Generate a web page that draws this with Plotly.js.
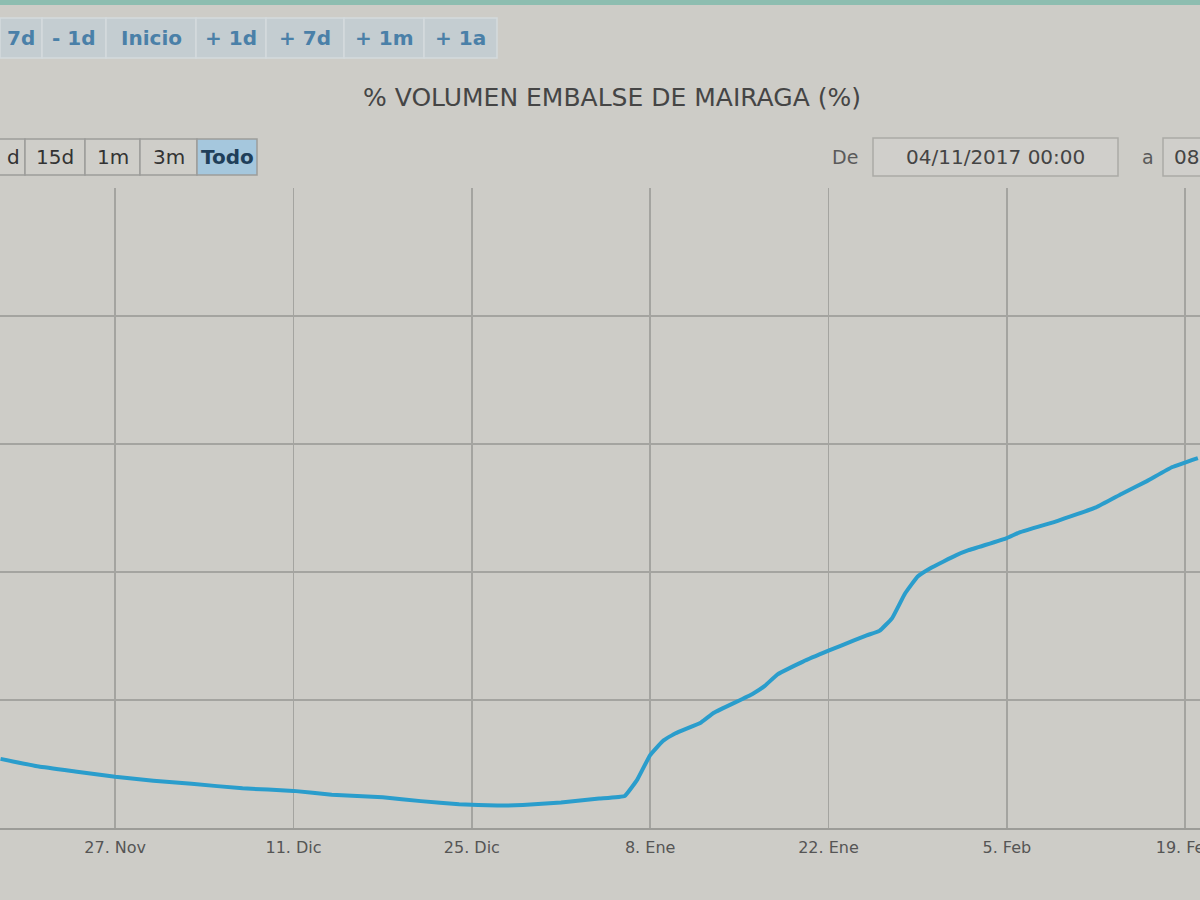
<!DOCTYPE html>
<html>
<head>
<meta charset="utf-8">
<script src="https://cdn.plot.ly/plotly-3.0.1.min.js"></script>
<style>
  html, body { margin: 0; padding: 0; background: #cdccc7; }
  #chart { width: 1200px; height: 900px; }
</style>
</head>
<body>
<div id="chart"></div>
<script>
// ---- Data ----
const fechas = [
  '2017-11-18','2017-11-21','2017-11-24','2017-11-27','2017-11-30',
  '2017-12-03','2017-12-07','2017-12-11','2017-12-14','2017-12-18',
  '2017-12-21','2017-12-24','2017-12-27','2017-12-29','2018-01-01',
  '2018-01-04','2018-01-06','2018-01-07','2018-01-08','2018-01-09',
  '2018-01-10','2018-01-12','2018-01-13','2018-01-16','2018-01-17',
  '2018-01-18','2018-01-20','2018-01-22','2018-01-23','2018-01-25',
  '2018-01-26','2018-01-27','2018-01-28','2018-01-29','2018-01-30',
  '2018-02-01','2018-02-02','2018-02-05','2018-02-06','2018-02-09',
  '2018-02-12','2018-02-14','2018-02-16','2018-02-18','2018-02-20'
];
const volumen = [
  15.4, 14.8, 14.4, 14.0, 13.7,
  13.45, 13.1, 12.9, 12.6, 12.4,
  12.1, 11.85, 11.75, 11.8, 12.0,
  12.3, 12.5, 13.8, 15.7, 16.8,
  17.4, 18.25, 19.0, 20.45, 21.1,
  22.0, 23.0, 23.85, 24.25, 25.05,
  25.4, 26.4, 28.3, 29.65, 30.3,
  31.3, 31.7, 32.65, 33.1, 34.0,
  35.05, 36.1, 37.1, 38.2, 38.9
];
const tickFechas = ['2017-11-27','2017-12-11','2017-12-25','2018-01-08','2018-01-22','2018-02-05','2018-02-19'];
const tickTextos = ['27. Nov','11. Dic','25. Dic','8. Ene','22. Ene','5. Feb','19. Feb'];
const botonesNav = ['7d','- 1d','Inicio','+ 1d','+ 7d','+ 1m','+ 1a'];
const botonesRango = ['d','15d','1m','3m','Todo'];
const titulo = '% VOLUMEN EMBALSE DE MAIRAGA (%)';
const fechaDesde = '04/11/2017 00:00';

// ---- Layout helpers (pixel -> paper) ----
const W = 1200, H = 900, T = 188, B = 72;
const PH = H - T - B;
const px = x => x / W;
const py = y => (H - B - y) / PH;

const annotations = [];
const shapes = [];

// top teal strip
shapes.push({type:'rect', xref:'paper', yref:'paper', x0:0, x1:1, y0:py(5), y1:py(0),
  fillcolor:'#8dbdb0', line:{width:0}, layer:'above'});

// navigation buttons row
const navX = [[0,42],[42,106],[106,196],[196,266],[266,344],[344,424],[424,497]];
botonesNav.forEach((t, i) => {
  const [a, b] = navX[i];
  shapes.push({type:'rect', xref:'paper', yref:'paper', x0:px(a), x1:px(b), y0:py(58), y1:py(18),
    fillcolor:'#c4cdd1', line:{color:'#d3dadd', width:1.5}, layer:'above'});
  annotations.push({text:'<b>' + t + '</b>', xref:'paper', yref:'paper', x:px((a+b)/2), y:py(38),
    xanchor:'center', yanchor:'middle', showarrow:false,
    font:{family:'DejaVu Sans', size:20, color:'#4a80a8'}});
});

// range selector row
const rngX = [[-10,25],[25,85],[85,140],[140,197],[197,257]];
botonesRango.forEach((t, i) => {
  const [a, b] = rngX[i];
  const sel = t === 'Todo';
  shapes.push({type:'rect', xref:'paper', yref:'paper', x0:px(a), x1:px(b), y0:py(175), y1:py(139),
    fillcolor: sel ? '#a5c7dd' : '#cfcec9', line:{color:'#9d9d9a', width:1.5}, layer:'above'});
  annotations.push({text: sel ? '<b>' + t + '</b>' : t, xref:'paper', yref:'paper', x:px((a+b)/2 + (i===0?6:0)), y:py(157),
    xanchor:'center', yanchor:'middle', showarrow:false,
    font:{family:'DejaVu Sans', size:20, color: sel ? '#1f3f5a' : '#333333'}});
});

// date inputs
annotations.push({text:'De', xref:'paper', yref:'paper', x:px(845), y:py(157), xanchor:'center', yanchor:'middle',
  showarrow:false, font:{family:'DejaVu Sans', size:19, color:'#5a5a5a'}});
shapes.push({type:'rect', xref:'paper', yref:'paper', x0:px(873), x1:px(1118), y0:py(176), y1:py(138),
  fillcolor:'#d0cfcb', line:{color:'#aaaaa6', width:1.5}, layer:'above'});
annotations.push({text:fechaDesde, xref:'paper', yref:'paper', x:px(995), y:py(157), xanchor:'center', yanchor:'middle',
  showarrow:false, font:{family:'DejaVu Sans', size:20, color:'#444444'}});
annotations.push({text:'a', xref:'paper', yref:'paper', x:px(1148), y:py(157), xanchor:'center', yanchor:'middle',
  showarrow:false, font:{family:'DejaVu Sans', size:19, color:'#5a5a5a'}});
shapes.push({type:'rect', xref:'paper', yref:'paper', x0:px(1163), x1:px(1210), y0:py(176), y1:py(138),
  fillcolor:'#d0cfcb', line:{color:'#aaaaa6', width:1.5}, layer:'above'});
annotations.push({text:'08', xref:'paper', yref:'paper', x:px(1172), y:py(157), xanchor:'left', yanchor:'middle',
  showarrow:false, font:{family:'DejaVu Sans', size:20, color:'#444444'}});

const trace = {
  x: fechas, y: volumen, type:'scatter', mode:'lines',
  line:{color:'#2a9dcc', width:4, shape:'spline', smoothing:0.3},
  hoverinfo:'x+y'
};

const layout = {
  width: W, height: H,
  margin:{l:0, r:0, t:T, b:B, pad:0},
  paper_bgcolor:'#cdccc7',
  plot_bgcolor:'#cdccc7',
  showlegend:false,
  title:{text:titulo, x:0.51, xanchor:'center', y:1 - 97/H, yanchor:'middle',
    font:{family:'DejaVu Sans', size:25, color:'#454545'}},
  xaxis:{
    type:'date',
    range:['2017-11-17 23:00','2018-02-20 04:00'],
    tickmode:'array', tickvals:tickFechas, ticktext:tickTextos,
    showgrid:true, gridcolor:'#a4a4a0', gridwidth:1.5,
    showline:true, linecolor:'#9c9c98', linewidth:1.5,
    ticks:'', ticklabelstandoff:4, ticklabeloverflow:'allow',
    tickfont:{family:'DejaVu Sans', size:16, color:'#555555'},
    zeroline:false, automargin:false, fixedrange:true
  },
  yaxis:{
    range:[10, 60], dtick:10, tick0:10,
    showgrid:true, gridcolor:'#a4a4a0', gridwidth:1.5,
    showticklabels:false, ticks:'', zeroline:false, showline:false,
    automargin:false, fixedrange:true
  },
  shapes: shapes,
  annotations: annotations
};

Plotly.newPlot('chart', [trace], layout, {displayModeBar:false, staticPlot:true});
</script>
</body>
</html>
